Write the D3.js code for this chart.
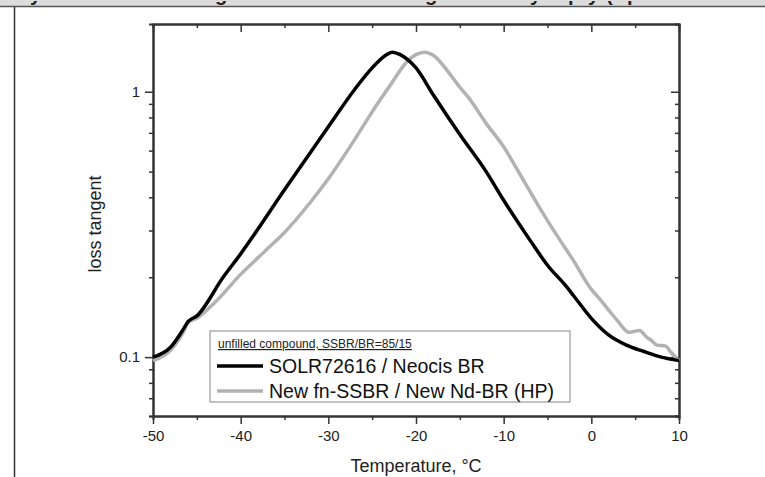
<!DOCTYPE html>
<html>
<head>
<meta charset="utf-8">
<script src="https://cdn.jsdelivr.net/npm/d3@7"></script>
<style>
  body { margin: 0; background: #fff; }
  svg { display: block; font-family: 'Liberation Sans', Arial, sans-serif; }
  .axis path, .axis line { stroke: #333; }
  .axis text { font-size: 15px; fill: #222; }
</style>
</head>
<body>
<script>
// series 1: SOLR72616 / Neocis BR (black)
const tempBlack = [-50, -48, -46.5, -46, -45, -42, -40, -35, -30, -27, -25, -23.5, -22.7, -21.8, -20, -18, -15, -12, -10, -7, -5, -3, -2, 0, 2, 4, 6, 8, 10]
const tanBlack = [0.1, 0.109, 0.128, 0.136, 0.143, 0.2, 0.245, 0.427, 0.738, 1.02, 1.23, 1.37, 1.41, 1.38, 1.23, 0.97, 0.69, 0.50, 0.39, 0.276, 0.222, 0.187, 0.17, 0.14, 0.121, 0.111, 0.105, 0.1, 0.097]

// series 2: New fn-SSBR / New Nd-BR (HP) (grey)
const tempGray = [-50, -48, -46.5, -46, -45, -43, -40, -37, -35, -32, -30, -27, -25, -23, -21, -20, -19, -18, -16, -15, -14, -12, -10, -8, -6, -4, -2, 0, 1, 2, 3, 4.3, 5.5, 6.3, 6.8, 7.5, 8.5, 9, 10]
const tanGray = [0.097, 0.106, 0.125, 0.135, 0.14, 0.16, 0.205, 0.255, 0.295, 0.385, 0.47, 0.66, 0.84, 1.05, 1.30, 1.38, 1.41, 1.37, 1.15, 1.04, 0.95, 0.76, 0.62, 0.48, 0.37, 0.29, 0.23, 0.18, 0.165, 0.15, 0.137, 0.124, 0.126, 0.119, 0.116, 0.111, 0.11, 0.105, 0.097]

const seriesNames = ['SOLR72616 / Neocis BR', 'New fn-SSBR / New Nd-BR (HP)']
const legendTitle = 'unfilled compound, SSBR/BR=85/15'

const xMajor = [-50, -40, -30, -20, -10, 0, 10]
const xMinor = [-45, -35, -25, -15, -5, 5]
const yMajor = [0.1, 1]
const yMinor = [0.06, 0.07, 0.08, 0.09, 0.2, 0.3, 0.4, 0.5, 0.6, 0.7, 0.8, 0.9]

// cut-off title fragments at the very top of the picture
const titleChars = ['y', 'g', 'g', 'y', 'p', 'y', '(', 'p']
const titleX = [30, 215, 425, 530, 568, 588, 606, 627]

const width = 765
const height = 477
const margin = { top: 24, left: 153, right: 86, bottom: 61 }
const innerWidth = width - margin.left - margin.right
const innerHeight = height - margin.top - margin.bottom

const svg = d3.select('body').append('svg')
  .attr('width', width)
  .attr('height', height)

// page frame / header bar
svg.append('rect').attr('x', 0).attr('y', 0).attr('width', width).attr('height', 6).attr('fill', '#dcdcdc')
svg.append('g').selectAll('text')
  .data(titleChars)
  .enter()
  .append('text')
  .attr('x', (d, i) => titleX[i])
  .attr('y', 1)
  .attr('font-size', 20)
  .attr('font-weight', 'bold')
  .attr('fill', '#222')
  .text(d => d)
svg.append('rect').attr('x', 0).attr('y', 0).attr('width', width).attr('height', 1).attr('fill', '#dcdcdc')
svg.append('line').attr('x1', 0).attr('x2', width).attr('y1', 6.5).attr('y2', 6.5)
  .attr('stroke', '#555').attr('stroke-width', 1.5)
svg.append('line').attr('x1', 14.5).attr('x2', 14.5).attr('y1', 7).attr('y2', height)
  .attr('stroke', '#333').attr('stroke-width', 1.5)

const main = svg.append('g')
  .attr('transform', `translate(${margin.left}, ${margin.top})`)

const xScale = d3.scaleLinear().domain([-50, 10]).range([0, innerWidth])
const yScale = d3.scaleLog().domain([0.06, 1.8]).range([innerHeight, 0])

const styleAxis = g => {
  g.attr('class', 'axis')
  g.select('.domain').attr('stroke-width', 2)
  g.selectAll('.tick line').attr('stroke-width', 1.5)
}
// axes without labels: drop the empty tick texts
const noLabels = g => g.selectAll('.tick text').remove()

// minor ticks
main.append('g').attr('transform', `translate(0, ${innerHeight})`)
  .call(d3.axisBottom(xScale).tickValues(xMinor).tickSize(4)).call(styleAxis).call(noLabels)
main.append('g')
  .call(d3.axisTop(xScale).tickValues(xMinor).tickSize(-4)).call(styleAxis).call(noLabels)
main.append('g')
  .call(d3.axisLeft(yScale).tickValues(yMinor).tickSize(4)).call(styleAxis).call(noLabels)
main.append('g').attr('transform', `translate(${innerWidth}, 0)`)
  .call(d3.axisRight(yScale).tickValues(yMinor).tickSize(-4)).call(styleAxis).call(noLabels)

// major ticks
main.append('g').attr('transform', `translate(0, ${innerHeight})`)
  .call(d3.axisBottom(xScale).tickValues(xMajor).tickSizeInner(8).tickSizeOuter(0).tickPadding(6).tickFormat(d => String(d)))
  .call(styleAxis)
main.append('g')
  .call(d3.axisTop(xScale).tickValues(xMajor).tickSizeInner(-8).tickSizeOuter(0))
  .call(styleAxis).call(noLabels)
main.append('g')
  .call(d3.axisLeft(yScale).tickValues(yMajor).tickSizeInner(8).tickSizeOuter(0).tickPadding(5).tickFormat(d => String(d)))
  .call(styleAxis)
main.append('g').attr('transform', `translate(${innerWidth}, 0)`)
  .call(d3.axisRight(yScale).tickValues(yMajor).tickSizeInner(-8).tickSizeOuter(0))
  .call(styleAxis).call(noLabels)

main.selectAll('.axis text').attr('fill', '#222').style('font-size', '15px')

// curves
const line = d3.line()
  .x(d => xScale(d[0]))
  .y(d => yScale(d[1]))
  .curve(d3.curveMonotoneX)

main.append('path')
  .datum(d3.zip(tempGray, tanGray))
  .attr('d', line)
  .attr('fill', 'none')
  .attr('stroke', '#b2b2b2')
  .attr('stroke-width', 3.5)

main.append('path')
  .datum(d3.zip(tempBlack, tanBlack))
  .attr('d', line)
  .attr('fill', 'none')
  .attr('stroke', '#000')
  .attr('stroke-width', 3.5)

// axis labels
main.append('text')
  .attr('x', innerWidth / 2)
  .attr('y', innerHeight + 56)
  .attr('text-anchor', 'middle')
  .attr('font-size', 18)
  .attr('fill', '#222')
  .text('Temperature, °C')

main.append('text')
  .attr('transform', `translate(${-52}, ${innerHeight / 2 + 4}) rotate(-90)`)
  .attr('text-anchor', 'middle')
  .attr('font-size', 18)
  .attr('fill', '#222')
  .text('loss tangent')

// legend
const legend = main.append('g')
  .attr('transform', `translate(${210 - margin.left}, ${331 - margin.top})`)

legend.append('rect')
  .attr('width', 360)
  .attr('height', 71)
  .attr('fill', '#fff')
  .attr('stroke', '#999')
  .attr('stroke-width', 1.2)

legend.append('text')
  .attr('x', 8)
  .attr('y', 17)
  .attr('font-size', 12)
  .attr('fill', '#222')
  .attr('text-decoration', 'underline')
  .text(legendTitle)

const legendColors = ['#000', '#b2b2b2']
const rows = legend.selectAll('.row')
  .data(seriesNames)
  .enter()
  .append('g')
  .attr('class', 'row')
  .attr('transform', (d, i) => `translate(0, ${35 + i * 25})`)

rows.append('line')
  .attr('x1', 7).attr('x2', 53)
  .attr('stroke', (d, i) => legendColors[i])
  .attr('stroke-width', 3.5)

rows.append('text')
  .attr('x', 59)
  .attr('y', 6.5)
  .attr('font-size', 19.5)
  .attr('fill', '#111')
  .text(d => d)
</script>
</body>
</html>
